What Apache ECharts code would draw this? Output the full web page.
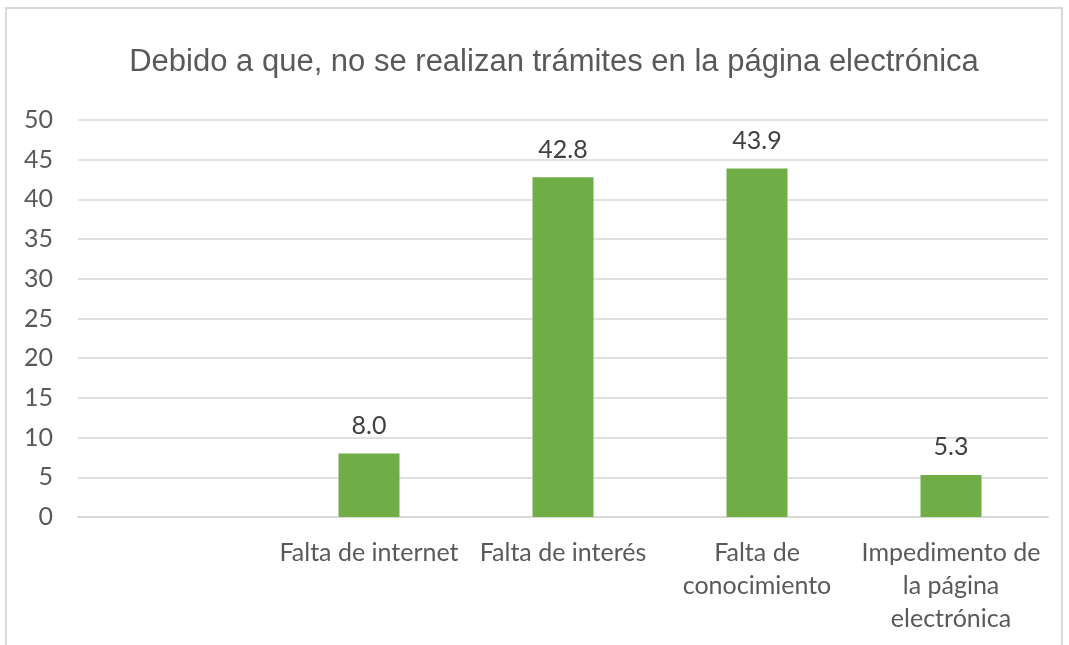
<!DOCTYPE html>
<html>
<head>
<meta charset="utf-8">
<script src="https://cdn.jsdelivr.net/npm/echarts@6/dist/echarts.min.js"></script>
<style>
  html, body { margin: 0; padding: 0; background: #fff; }
  #chart { width: 1069px; height: 645px; }
</style>
</head>
<body>
<div id="chart"></div>
<script>
const categorias = ['', 'Falta de internet', 'Falta de interés', 'Falta de\nconocimiento', 'Impedimento de\nla página\nelectrónica']
const valores = [null, 8.0, 42.8, 43.9, 5.3]
const titulo = 'Debido a que, no se realizan trámites en la página electrónica'

const chartDiv = document.getElementById('chart')
const myChart = echarts.init(chartDiv)
myChart.setOption({
    animation: false,
    title: {
        text: titulo,
        left: 549,
        textAlign: 'center',
        top: 42,
        textStyle: {
            fontFamily: 'Liberation Sans',
            fontWeight: 'normal',
            fontSize: 31,
            color: '#595959',
        },
    },
    graphic: [
        {
            type: 'rect',
            shape: { x: 6, y: 8, width: 1056, height: 700 },
            style: { fill: 'none', stroke: '#d9d9d9', lineWidth: 2 },
            silent: true,
        },
    ],
    grid: {
        left: 78,
        right: 21,
        top: 120,
        bottom: 128,
    },
    xAxis: {
        type: 'category',
        data: categorias,
        axisTick: { show: false },
        axisLine: { lineStyle: { color: '#d9d9d9', width: 2 } },
        axisLabel: {
            interval: 0,
            margin: 19,
            fontFamily: 'Lato',
            fontSize: 25,
            lineHeight: 33,
            color: '#595959',
        },
    },
    yAxis: {
        type: 'value',
        min: 0,
        max: 50,
        interval: 5,
        axisLine: { show: false },
        axisTick: { show: false },
        splitLine: { lineStyle: { color: '#e0e0e0', width: 2 } },
        axisLabel: {
            margin: 25,
            fontFamily: 'Lato',
            fontSize: 25,
            color: '#595959',
        },
    },
    series: [
        {
            type: 'bar',
            data: valores,
            barWidth: 61,
            itemStyle: { color: '#70ad47' },
            label: {
                show: true,
                position: 'top',
                distance: 15,
                formatter: (p) => p.value.toFixed(1),
                fontFamily: 'Lato',
                fontSize: 25,
                color: '#404040',
            },
        },
    ],
})
</script>
</body>
</html>
